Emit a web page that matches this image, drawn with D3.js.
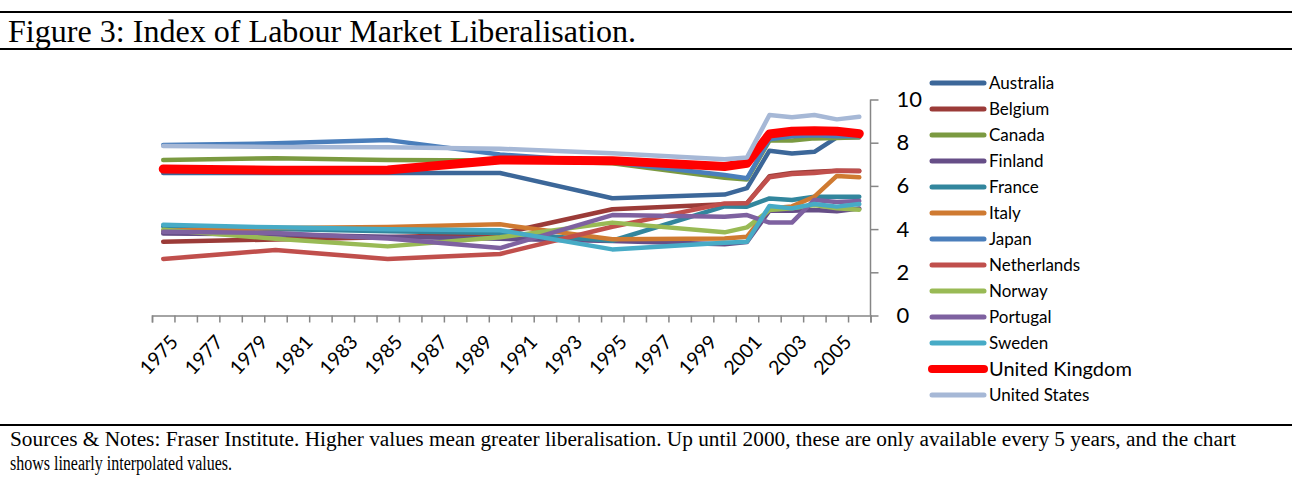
<!DOCTYPE html>
<html>
<head>
<meta charset="utf-8">
<script src="https://cdn.jsdelivr.net/npm/d3@7"></script>
<style>
  body { margin: 0; background: #fff; }
  .axis path, .axis line { stroke: #868686; stroke-width: 1.5; }
  .axis text { fill: #000; font-family: Lato, "Noto Sans", sans-serif; }
</style>
</head>
<body>
<svg id="fig"></svg>
<script>
// years where values exist (before 2000 only every 5 years, linear in between)
const years = [1975, 1980, 1985, 1990, 1995, 2000, 2001, 2002, 2003, 2004, 2005, 2006];
const countries = ["Australia", "Belgium", "Canada", "Finland", "France", "Italy", "Japan",
  "Netherlands", "Norway", "Portugal", "Sweden", "United Kingdom", "United States"];

const australia   = [6.60, 6.60, 6.60, 6.60, 5.43, 5.60, 5.90, 7.63, 7.50, 7.58, 8.25, 8.25];
const belgium     = [3.42, 3.52, 3.62, 3.78, 4.92, 5.15, 5.20, 6.45, 6.60, 6.65, 6.70, 6.70];
const canada      = [7.20, 7.28, 7.20, 7.18, 7.05, 6.38, 6.30, 8.10, 8.10, 8.20, 8.22, 8.25];
const finland     = [3.80, 3.75, 3.65, 3.55, 3.45, 3.30, 3.40, 4.85, 4.85, 4.88, 4.83, 4.95];
const france      = [4.12, 4.00, 3.90, 3.82, 3.46, 5.05, 5.04, 5.42, 5.35, 5.50, 5.50, 5.50];
const italy       = [3.92, 4.05, 4.10, 4.22, 3.53, 3.57, 3.65, 4.95, 5.05, 5.50, 6.46, 6.40];
const japan       = [7.89, 7.97, 8.12, 7.45, 7.10, 6.50, 6.35, 8.16, 8.30, 8.35, 8.30, 8.30];
const netherlands = [2.62, 3.03, 2.62, 2.85, 4.11, 5.19, 5.20, 6.40, 6.55, 6.60, 6.70, 6.68];
const norway      = [3.97, 3.55, 3.20, 3.62, 4.30, 3.85, 4.08, 4.88, 4.96, 5.12, 4.96, 4.90];
const portugal    = [3.88, 3.82, 3.57, 3.12, 4.65, 4.57, 4.65, 4.30, 4.30, 5.35, 5.25, 5.30];
const sweden      = [4.20, 4.08, 3.99, 3.95, 3.06, 3.37, 3.42, 5.07, 4.96, 5.16, 5.04, 5.16];
const uk          = [6.78, 6.72, 6.74, 7.20, 7.17, 6.90, 7.05, 8.40, 8.53, 8.55, 8.53, 8.42];
const us          = [7.85, 7.80, 7.79, 7.72, 7.51, 7.23, 7.32, 9.28, 9.18, 9.28, 9.08, 9.20];

const series = [australia, belgium, canada, finland, france, italy, japan,
  netherlands, norway, portugal, sweden, uk, us];

const yTicks = [0, 2, 4, 6, 8, 10];
const xLabels = d3.range(1975, 2006, 2);

const colors = ["#3c6799", "#9b3b38", "#7b9a41", "#664e87", "#32869d", "#cf7a31", "#4a7ebb",
  "#c04f4c", "#99ba55", "#7e61a0", "#47abc6", "#ff0000", "#a6b8d6"];

const W = 1292, H = 478;
const svg = d3.select("#fig").attr("width", W).attr("height", H);

// header and footer rules / text
svg.append("line").attr("x1", 0).attr("x2", W).attr("y1", 12).attr("y2", 12)
  .attr("stroke", "#000").attr("stroke-width", 2);
svg.append("line").attr("x1", 0).attr("x2", W).attr("y1", 49).attr("y2", 49)
  .attr("stroke", "#000").attr("stroke-width", 2);
svg.append("text").attr("x", 8).attr("y", 42)
  .style("font-family", "'Liberation Serif', 'Times New Roman', serif")
  .style("font-size", "32px")
  .attr("textLength", 628).attr("lengthAdjust", "spacingAndGlyphs")
  .text("Figure 3: Index of Labour Market Liberalisation.");

svg.append("line").attr("x1", 0).attr("x2", W).attr("y1", 425).attr("y2", 425)
  .attr("stroke", "#000").attr("stroke-width", 2);
svg.append("text").attr("x", 10).attr("y", 446)
  .style("font-family", "'Liberation Serif', 'Times New Roman', serif")
  .style("font-size", "20px")
  .attr("textLength", 1226).attr("lengthAdjust", "spacingAndGlyphs")
  .text("Sources & Notes: Fraser Institute. Higher values mean greater liberalisation. Up until 2000, these are only available every 5 years, and the chart");
svg.append("text").attr("x", 10).attr("y", 470)
  .style("font-family", "'Liberation Serif', 'Times New Roman', serif")
  .style("font-size", "20px")
  .attr("textLength", 222).attr("lengthAdjust", "spacingAndGlyphs")
  .text("shows linearly interpolated values.");

// scales: categories centred between tick marks
const x = d3.scaleLinear().domain([1974.5, 2006.5]).range([152, 870.5]);
const y = d3.scaleLinear().domain([0, 10]).range([315.5, 99.5]);

// x axis: tick marks between categories
const xAxis = d3.axisBottom(x)
  .tickValues(d3.range(1974.5, 2007, 1))
  .tickSize(7)
  .tickFormat("");
svg.append("g").attr("class", "axis")
  .attr("transform", "translate(0," + y(0) + ")")
  .call(xAxis);

svg.selectAll(".xlab")
  .data(xLabels)
  .enter().append("text")
  .attr("class", "xlab")
  .attr("transform", function(d) { return "translate(" + (x(d) + 16) + "," + 343 + ") rotate(-47)"; })
  .style("text-anchor", "end")
  .style("font-family", "Lato, 'Noto Sans', sans-serif")
  .style("font-size", "19.5px")
  .text(function(d) { return d; });

// y axis on the right
const yAxis = d3.axisRight(y)
  .tickValues(yTicks)
  .tickSize(8)
  .tickPadding(18);
svg.append("g").attr("class", "axis")
  .attr("transform", "translate(" + x(2006.5) + ",0)")
  .call(yAxis)
  .call(function(g) { g.select(".domain").attr("d", "M0," + y(10) + "V" + y(0)); })
  .selectAll("text").style("font-size", "22px");

// lines
const line = d3.line()
  .x(function(d, i) { return x(years[i]); })
  .y(function(d) { return y(d); });

svg.selectAll(".series")
  .data(series)
  .enter().append("path")
  .attr("class", "series")
  .attr("d", line)
  .attr("fill", "none")
  .attr("stroke", function(d, i) { return colors[i]; })
  .attr("stroke-width", function(d, i) { return countries[i] === "United Kingdom" ? 9 : 4.5; })
  .attr("stroke-linecap", "round")
  .attr("stroke-linejoin", "round");

// legend
const leg = svg.selectAll(".leg")
  .data(countries)
  .enter().append("g")
  .attr("class", "leg")
  .attr("transform", function(d, i) { return "translate(930," + (83 + i * 26) + ")"; });
leg.append("line")
  .attr("x1", 2).attr("x2", 54)
  .attr("stroke", function(d, i) { return colors[i]; })
  .attr("stroke-width", function(d) { return d === "United Kingdom" ? 8 : 5; })
  .attr("stroke-linecap", "round");
leg.append("text")
  .attr("x", 59).attr("dy", "0.35em")
  .style("font-family", "Lato, 'Noto Sans', sans-serif")
  .style("font-size", function(d) { return d === "United Kingdom" ? "20px" : "17px"; })
  .text(function(d) { return d; });
</script>
</body>
</html>
